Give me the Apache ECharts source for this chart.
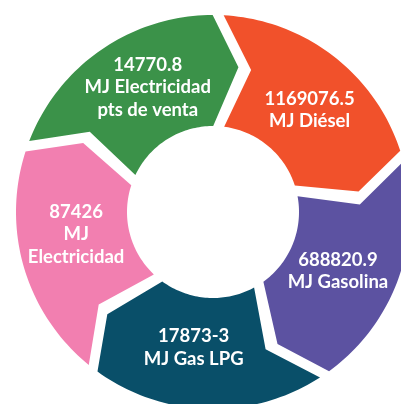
<!DOCTYPE html>
<html>
<head>
<meta charset="utf-8">
<script src="https://cdn.jsdelivr.net/npm/echarts@6/dist/echarts.min.js"></script>
<style>
  html, body { margin: 0; padding: 0; background: #fff; }
  #chart { width: 401px; height: 404px; }
</style>
</head>
<body>
<div id="chart"></div>
<script>
// segments clockwise from 12 o'clock
const amounts = ['1169076.5', '688820.9', '17873-3', '87426', '14770.8'];
const units = ['MJ Diésel', 'MJ Gasolina', 'MJ Gas LPG', 'MJ\nElectricidad', 'MJ Electricidad\npts de venta'];
const colors = ['#F1512B', '#5C52A1', '#094F69', '#F27FB0', '#3B9249'];

const R_IN = 86, R_OUT = 197, R_TIP = 147;
const OFF_OUT = 1.5, OFF_IN = 3.8, OFF_TIP = 12.5;   // where each boundary sits, degrees
const HALF_GAP = 5.5, HALF_GAP_TIP = 6.5;            // px

const deg = (px, r) => px / r * 180 / Math.PI;

function renderSegment(params, api) {
  const i = params.dataIndex;
  const step = 360 / amounts.length;
  const a0 = i * step, a1 = a0 + step;
  const pt = (r, a) => api.coord([r, a]);
  const pts = [];
  const n = 48;

  // outer arc
  let s = a0 + OFF_OUT + deg(HALF_GAP, R_OUT), e = a1 + OFF_OUT - deg(HALF_GAP, R_OUT);
  for (let k = 0; k <= n; k++) pts.push(pt(R_OUT, s + (e - s) * k / n));
  // leading tip
  pts.push(pt(R_TIP, a1 + OFF_TIP - deg(HALF_GAP_TIP, R_TIP)));
  // inner arc, back
  s = a1 + OFF_IN - deg(HALF_GAP, R_IN); e = a0 + OFF_IN + deg(HALF_GAP, R_IN);
  for (let k = 0; k <= n; k++) pts.push(pt(R_IN, s + (e - s) * k / n));
  // trailing notch
  pts.push(pt(R_TIP, a0 + OFF_TIP + deg(HALF_GAP_TIP, R_TIP)));

  const c = pt(139, a0 + 44);
  return {
    type: 'group',
    children: [
      { type: 'polygon', shape: { points: pts }, style: { fill: colors[i] } },
      {
        type: 'text',
        x: c[0], y: c[1] - 2,
        style: {
          text: amounts[i] + '\n' + units[i],
          fill: '#fff',
          font: 'bold 18.5px Lato',
          lineHeight: 22.5,
          align: 'center',
          verticalAlign: 'middle'
        }
      }
    ]
  };
}

const chart = echarts.init(document.getElementById('chart'), null, { renderer: 'canvas' });
chart.setOption({
  animation: false,
  backgroundColor: '#fff',
  polar: { center: [213, 212], radius: R_OUT },
  angleAxis: { type: 'value', min: 0, max: 360, startAngle: 90, clockwise: true, show: false },
  radiusAxis: { type: 'value', min: 0, max: R_OUT, show: false },
  series: [{
    type: 'custom',
    coordinateSystem: 'polar',
    data: amounts.map((v, i) => [0, i]),
    renderItem: renderSegment
  }]
});
</script>
</body>
</html>
